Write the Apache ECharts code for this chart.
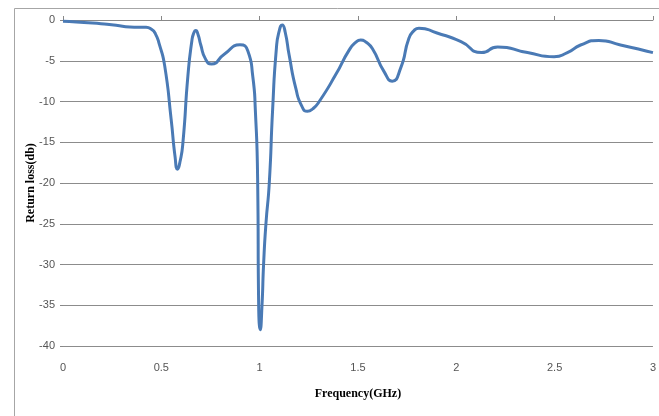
<!DOCTYPE html>
<html>
<head>
<meta charset="utf-8">
<script src="https://cdn.jsdelivr.net/npm/echarts@6/dist/echarts.min.js"></script>
<style>
html,body{margin:0;padding:0;background:#fff;}
#chart{width:659px;height:416px;}
</style>
</head>
<body>
<div id="chart"></div>
<script>
const frequency = [0, 0.15, 0.27, 0.34, 0.42, 0.45, 0.47, 0.49, 0.517, 0.55, 0.57, 0.582, 0.595, 0.61, 0.635, 0.655, 0.665, 0.675, 0.687, 0.7, 0.725, 0.755, 0.82, 0.9, 0.94, 0.965, 0.978, 0.99, 0.995, 1.003, 1.012, 1.02, 1.032, 1.049, 1.066, 1.085, 1.1, 1.115, 1.13, 1.15, 1.184, 1.215, 1.243, 1.27, 1.303, 1.387, 1.455, 1.49, 1.514, 1.54, 1.573, 1.632, 1.674, 1.717, 1.759, 1.785, 1.81, 1.902, 2.024, 2.129, 2.21, 2.362, 2.497, 2.565, 2.632, 2.725, 2.835, 3.0];
const returnLoss = [-0.15, -0.37, -0.65, -0.85, -0.9, -1.15, -1.7, -3.0, -5.6, -12.2, -16.8, -18.3, -17.4, -15.0, -6.9, -2.6, -1.6, -1.3, -1.8, -3.0, -4.8, -5.4, -4.2, -3.05, -3.8, -6.9, -11, -20, -35, -38, -35, -30, -25, -20, -11, -3.5, -1.3, -0.6, -1.5, -4.3, -8.4, -10.6, -11.2, -10.9, -10.0, -6.7, -3.7, -2.7, -2.45, -2.7, -3.5, -6.3, -7.5, -5.9, -2.25, -1.3, -1.0, -1.6, -2.65, -4.0, -3.3, -4.0, -4.5, -4.0, -3.07, -2.5, -3.07, -4.0];
const xTitle = 'Frequency(GHz)';
const yTitle = 'Return loss(db)';

const points = frequency.map((f, i) => [f, returnLoss[i]]);
const chart = echarts.init(document.getElementById('chart'), null, {renderer: 'canvas'});
chart.setOption({
  animation: false,
  backgroundColor: '#fff',
  graphic: [{
    type: 'rect', left: 12, top: 6, z: -10,
    shape: {width: 700, height: 460},
    style: {fill: 'none', stroke: '#a6a6a6', lineWidth: 1}
  }],
  grid: {left: 63, right: 4, top: 20, bottom: 70, containLabel: false},
  xAxis: [{
    type: 'value', position: 'bottom', min: 0, max: 3, interval: 0.5,
    axisLine: {show: false}, axisTick: {show: false}, splitLine: {show: false},
    axisLabel: {color: '#555', fontSize: 11, fontFamily: 'Liberation Sans', margin: 16},
    name: xTitle, nameLocation: 'middle', nameGap: 42, nameMoveOverlap: false,
    nameTextStyle: {fontFamily: 'Liberation Serif', fontWeight: 'bold', fontSize: 12, color: '#000'}
  }, {
    type: 'value', position: 'top', min: 0, max: 3, interval: 0.5,
    axisLine: {show: true, lineStyle: {color: '#888', width: 1}},
    axisTick: {show: true, length: 4, lineStyle: {color: '#888'}},
    axisLabel: {show: false}, splitLine: {show: false}
  }],
  yAxis: {
    type: 'value', min: -40, max: 0, interval: 5,
    axisLine: {show: false},
    axisTick: {show: true, length: 3, lineStyle: {color: '#888'}},
    splitLine: {show: true, lineStyle: {color: '#8c8c8c', width: 1}},
    axisLabel: {color: '#555', fontSize: 11, fontFamily: 'Liberation Sans', margin: 8},
    name: yTitle, nameLocation: 'middle', nameGap: 26, nameMoveOverlap: false,
    nameTextStyle: {fontFamily: 'Liberation Serif', fontWeight: 'bold', fontSize: 12, color: '#000'}
  },
  series: [{
    type: 'line', xAxisIndex: 0, data: points, smooth: 0.6,
    showSymbol: false, symbol: 'none',
    lineStyle: {color: '#4a7ab5', width: 3}
  }]
});
</script>
</body>
</html>
